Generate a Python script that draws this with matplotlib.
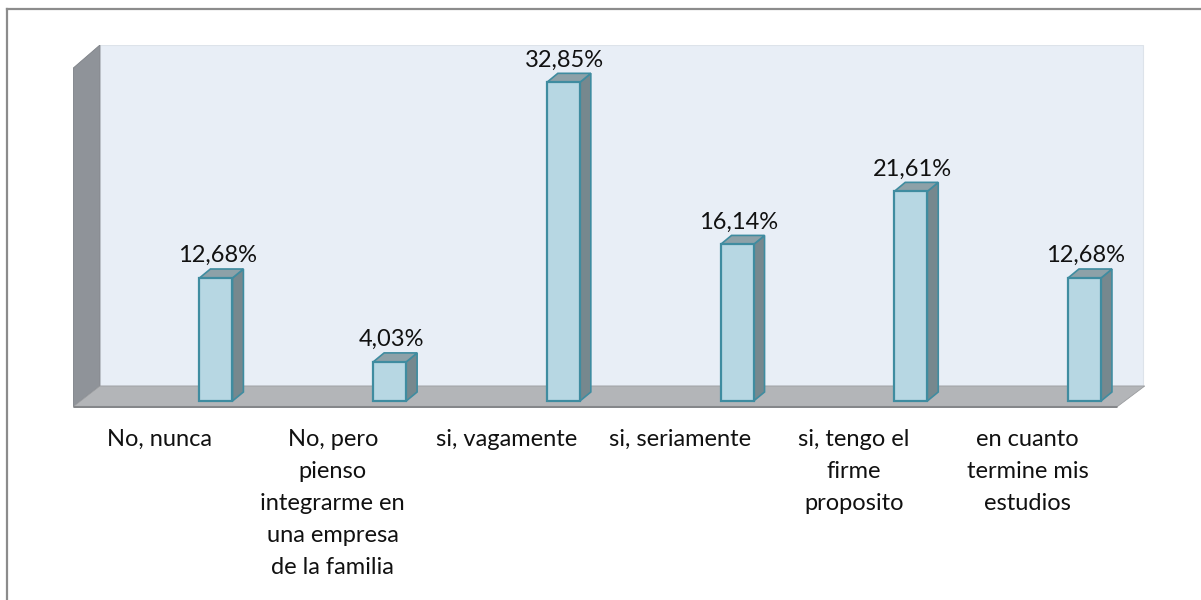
import matplotlib.pyplot as plt
from matplotlib.patches import Polygon
from matplotlib.lines import Line2D

categorias = ['No, nunca',
              'No, pero\npienso\nintegrarme en\nuna empresa\nde la familia',
              'si, vagamente',
              'si, seriamente',
              'si, tengo el\nfirme\nproposito',
              'en cuanto\ntermine mis\nestudios']
porcentajes = [12.68, 4.03, 32.85, 16.14, 21.61, 12.68]
etiquetas = ['12,68%', '4,03%', '32,85%', '16,14%', '21,61%', '12,68%']

plt.rcParams['font.family'] = ['Lato', 'DejaVu Sans']

fig = plt.figure(figsize=(12.01, 6.0), dpi=100)
ax = fig.add_axes([73 / 1201, 192 / 600, 1073 / 1201, 363 / 600])
ax.set_xlim(-0.823, 5.354)
ax.set_ylim(-0.72, 36.7)
ax.axis('off')

# profundidad 3d en unidades de datos
dx, dy = 0.063, 0.93
ancho = 0.19
# paredes y piso
x0, x1 = -0.823, 5.187
bx0, bx1 = -0.668, 5.337
piso_y0, piso_y1 = -0.6, 1.55
techo = 36.7

ax.add_patch(Polygon([(bx0, piso_y1), (bx1, piso_y1), (bx1, techo), (bx0, techo)],
                     closed=True, facecolor='#e8eef6', edgecolor='#dde3ea', lw=0.8))
ax.add_patch(Polygon([(x0, piso_y0), (x0, 34.3), (bx0, techo), (bx0, piso_y1)],
                     closed=True, facecolor='#8f9399', edgecolor='#7d8187', lw=0.6))
ax.add_patch(Polygon([(x0, piso_y0), (x1, piso_y0), (bx1 + 0.01, piso_y1), (bx0, piso_y1)],
                     closed=True, facecolor='#b3b5b8', edgecolor='#9a9c9f', lw=0.6))
ax.plot([x0, x1], [piso_y0, piso_y0], color='#85878a', lw=2.2, solid_capstyle='butt')

for i, v in enumerate(porcentajes):
    xl, xr = i - ancho / 2, i + ancho / 2
    lado = [(xr, 0), (xr, v), (xr + dx, v + dy), (xr + dx, dy)]
    tapa = [(xl, v), (xr, v), (xr + dx, v + dy), (xl + dx, v + dy)]
    ax.add_patch(Polygon(lado, closed=True, facecolor='#76888e', edgecolor='#3f8ca0', lw=1.2))
    ax.add_patch(Polygon(tapa, closed=True, facecolor='#8da1a8', edgecolor='#3f8ca0', lw=1.2))
    ax.bar(i, v, width=ancho, color='#b7d7e3', edgecolor='#3f8ca0', linewidth=1.6, zorder=3)
    ax.annotate(etiquetas[i], (i, v), xytext=(1, 11.5), textcoords='offset points',
                ha='center', va='baseline', fontsize=17, color='#111111')
    ax.annotate(categorias[i], (i, 0), xytext=(-41, -20), textcoords='offset points',
                ha='center', va='top', fontsize=17, color='#111111',
                multialignment='center', linespacing=1.65, annotation_clip=False)

# borde exterior
fig.add_artist(Line2D([7 / 1201, 7 / 1201], [0, 591 / 600], color='#8c8c8c', lw=1.6))
fig.add_artist(Line2D([7 / 1201, 1], [591 / 600, 591 / 600], color='#8c8c8c', lw=1.6))

plt.savefig('out.png', dpi=100)
